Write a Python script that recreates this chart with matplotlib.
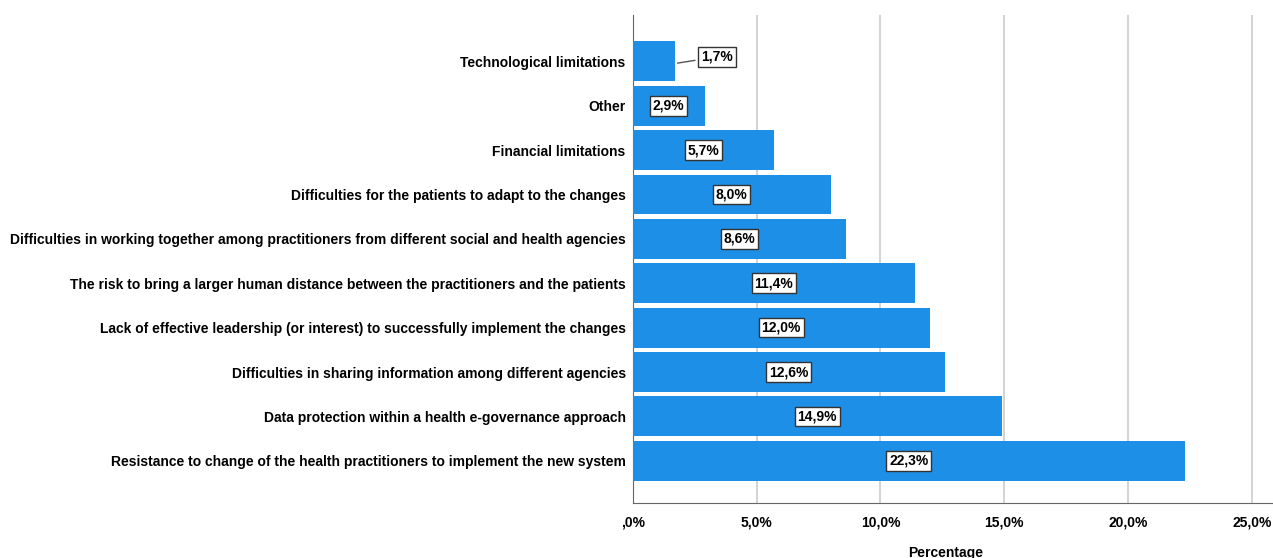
import matplotlib.pyplot as plt

categories = [
    'Resistance to change of the health practitioners to implement the new system',
    'Data protection within a health e-governance approach',
    'Difficulties in sharing information among different agencies',
    'Lack of effective leadership (or interest) to successfully implement the changes',
    'The risk to bring a larger human distance between the practitioners and the patients',
    'Difficulties in working together among practitioners from different social and health agencies',
    'Difficulties for the patients to adapt to the changes',
    'Financial limitations',
    'Other',
    'Technological limitations',
]
values = [22.3, 14.9, 12.6, 12.0, 11.4, 8.6, 8.0, 5.7, 2.9, 1.7]
xticks = [0, 5, 10, 15, 20, 25]
xtick_labels = [',0%', '5,0%', '10,0%', '15,0%', '20,0%', '25,0%']

plt.rcParams['font.family'] = ['Liberation Sans', 'DejaVu Sans']

fig = plt.figure(figsize=(12.73, 5.58), dpi=100)
ax = fig.add_axes([0.497, 0.0986, 0.503, 0.875])

pos = list(range(len(values)))
ax.barh(pos, values, height=0.9, color='#1e8fe6', zorder=3)

box = dict(boxstyle='square,pad=0.2', facecolor='white', edgecolor='#333333', linewidth=1)
for y, v in zip(pos, values):
    txt = f'{v:.1f}%'.replace('.', ',')
    if v < 2.5:
        # small bar: label placed outside with a leader line
        ax.annotate(txt, xy=(v, y - 0.05), xytext=(3.4, y + 0.1), ha='center', va='center',
                    fontsize=10, fontweight='bold', bbox=box, zorder=5,
                    arrowprops=dict(arrowstyle='-', color='#555555', lw=1))
    else:
        ax.text(v / 2, y, txt, ha='center', va='center', fontsize=10,
                fontweight='bold', bbox=box, zorder=5)

ax.set_yticks(pos)
ax.set_yticklabels(categories, fontsize=10, fontweight='bold')
ax.set_xticks(xticks)
ax.set_xticklabels(xtick_labels, fontsize=10, fontweight='bold')
ax.set_xlim(0, 25.85)
ax.set_ylim(-0.95, 10.05)
ax.tick_params(axis='y', length=0, pad=5)
ax.tick_params(axis='x', length=0, pad=9)
ax.xaxis.grid(True, color='#cccccc', linewidth=1.2, zorder=0)
ax.set_axisbelow(True)
for s in ['top', 'right']:
    ax.spines[s].set_visible(False)
ax.spines['left'].set_color('#666666')
ax.spines['bottom'].set_color('#666666')
ax.set_xlabel('Percentage', fontsize=10, fontweight='bold')
ax.xaxis.set_label_coords(0.489, -0.088)

fig.savefig('out.png', dpi=100)
